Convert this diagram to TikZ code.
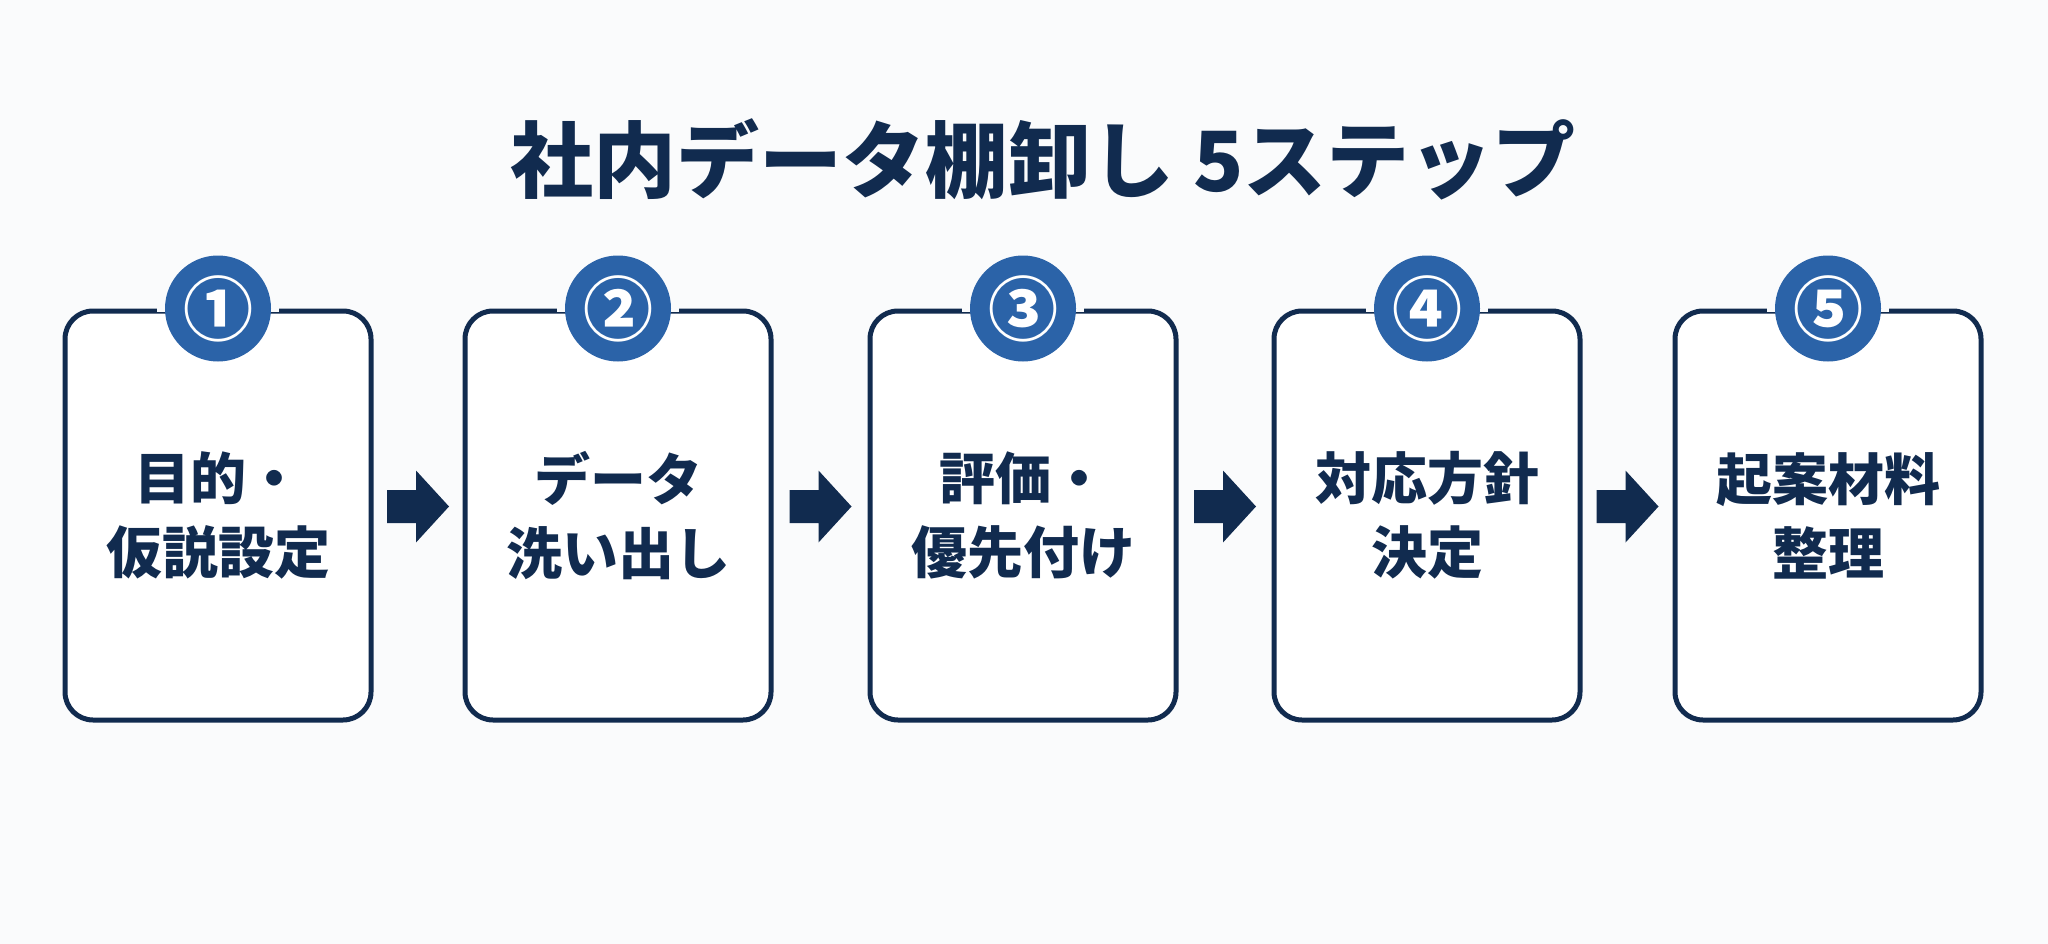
\documentclass[tikz,border=0pt]{standalone}
\usepackage{fontspec}
\setmainfont{Noto Sans CJK JP}
\usetikzlibrary{calc}
\definecolor{navy}{HTML}{112B4F}
\definecolor{badge}{HTML}{2B63A8}
\definecolor{bg}{HTML}{FAFBFC}
\begin{document}
\begin{tikzpicture}[x=1pt,y=-1pt,
  stepbox/.style={draw=navy, line width=5pt, fill=white, rounded corners=28pt,
    minimum width=306pt, minimum height=409pt, inner sep=0pt, align=center,
    font=\fontsize{56}{74}\selectfont\bfseries, text=navy},
  numbadge/.style={circle, fill=badge, minimum size=106pt,
    inner sep=0pt, text=white, font=\fontsize{70}{70}\selectfont\bfseries},
  flowarrow/.style={fill=navy}]
\fill[bg] (0,0) rectangle (2048,944);
\useasboundingbox (0,0) rectangle (2048,944);
\node[font=\fontsize{83}{83}\selectfont\bfseries, text=navy] (title) at (1043,159) {社内データ棚卸し 5ステップ};
\node[stepbox] (b1) at (218,515.5) {目的・\\仮説設定};
\node[stepbox] (b2) at (618,515.5) {データ\\洗い出し};
\node[stepbox] (b3) at (1023,515.5) {評価・\\優先付け};
\node[stepbox] (b4) at (1427,515.5) {対応方針\\決定};
\node[stepbox] (b5) at (1828,515.5) {起案材料\\整理};
\foreach \b in {b1,b2,b3,b4,b5}{
  \fill[bg] ($(\b.north)+(-61,-3)$) rectangle ($(\b.north)+(61,3)$);
}
\node[numbadge] (c1) at (b1.north) {①};
\node[numbadge] (c2) at (b2.north) {②};
\node[numbadge] (c3) at (b3.north) {③};
\node[numbadge] (c4) at (b4.north) {④};
\node[numbadge] (c5) at (b5.north) {⑤};
\foreach \a/\b in {b1/b2,b2/b3,b3/b4,b4/b5}{
  \coordinate (m\a) at ($(\a.east)!0.5!(\b.west)+(0,-9)$);
  \fill[flowarrow] (m\a) ++(-31,-16.5) -- ++(29,0) -- ++(0,-19.5) -- ++(33,36)
    -- ++(-33,36) -- ++(0,-19.5) -- ++(-29,0) -- cycle;
}
\end{tikzpicture}
\end{document}
